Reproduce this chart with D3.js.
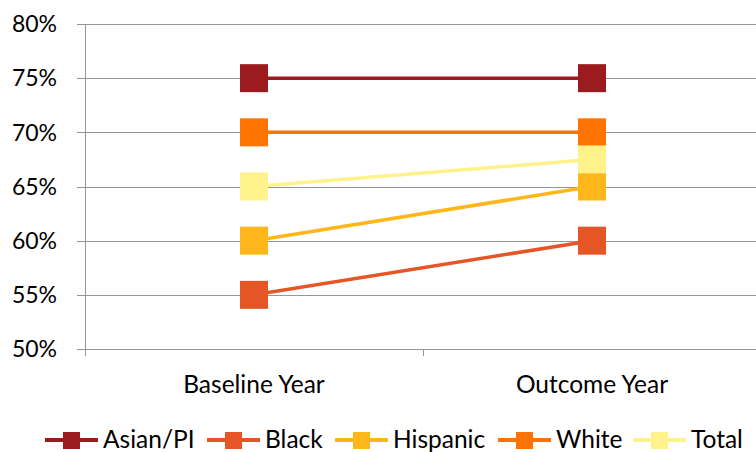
<!DOCTYPE html>
<html>
<head>
<meta charset="utf-8">
<script src="https://cdn.jsdelivr.net/npm/d3@7"></script>
<style>
  html, body { margin: 0; padding: 0; background: #fff; }
  svg { display: block; }
  text { font-family: "Lato", "Liberation Sans", sans-serif; fill: #000; }
</style>
</head>
<body>
<svg id="chart" width="756" height="452"></svg>
<script>
// Share of students by group, baseline vs. outcome year
const categories = ["Baseline Year", "Outcome Year"];
const seriesNames = ["Asian/PI", "Black", "Hispanic", "White", "Total"];
const asianPI = [0.75, 0.75];
const black = [0.55, 0.60];
const hispanic = [0.60, 0.65];
const white = [0.70, 0.70];
const total = [0.65, 0.675];
const yTicks = [0.50, 0.55, 0.60, 0.65, 0.70, 0.75, 0.80];
const colors = ["#9B1B1E", "#E55525", "#FDB71A", "#FF7300", "#FFF28A"];

const series = [asianPI, black, hispanic, white, total].map((values, i) => ({
  name: seriesNames[i], values, color: colors[i]
}));

const svg = d3.select("#chart");
const plotLeft = 85, plotRight = 761, plotTop = 24, plotBottom = 349;

const x = d3.scaleBand().domain(categories).range([plotLeft, plotRight]);
const y = d3.scaleLinear().domain([0.5, 0.8]).range([plotBottom, plotTop]);

// horizontal gridlines
svg.append("g").selectAll("line").data(yTicks).join("line")
  .attr("x1", plotLeft - 8).attr("x2", 756)
  .attr("y1", d => Math.round(y(d)) + 0.5).attr("y2", d => Math.round(y(d)) + 0.5)
  .attr("stroke", "#969696").attr("stroke-width", 1);

// y axis line
svg.append("line")
  .attr("x1", plotLeft + 0.5).attr("x2", plotLeft + 0.5)
  .attr("y1", plotTop).attr("y2", plotBottom + 7)
  .attr("stroke", "#969696");

// category boundary ticks
svg.append("g").selectAll("line").data(categories.slice(1)).join("line")
  .attr("x1", d => Math.round(x(d)) + 0.5).attr("x2", d => Math.round(x(d)) + 0.5)
  .attr("y1", plotBottom).attr("y2", plotBottom + 7)
  .attr("stroke", "#969696");

// y tick labels
const fmt = d3.format(".0%");
svg.append("g").selectAll("text").data(yTicks).join("text")
  .attr("x", 57).attr("y", d => y(d))
  .attr("dy", "0.36em").attr("text-anchor", "end")
  .style("font-size", "23px")
  .text(d => fmt(d));

// x category labels
svg.append("g").selectAll("text").data(categories).join("text")
  .attr("x", d => x(d) + x.bandwidth() / 2).attr("y", 393)
  .attr("text-anchor", "middle")
  .style("font-size", "24.5px")
  .text(d => d);

const cx = (i) => x(categories[i]) + x.bandwidth() / 2;
const line = d3.line().x((d, i) => cx(i)).y(d => y(d));

// lines
series.forEach(s => {
  svg.append("path").datum(s.values)
    .attr("d", line).attr("fill", "none")
    .attr("stroke", s.color).attr("stroke-width", 3.5);
});

// square markers
const m = 28;
series.forEach(s => {
  svg.append("g").selectAll("rect").data(s.values).join("rect")
    .attr("x", (d, i) => cx(i) - m / 2).attr("y", d => y(d) - m / 2)
    .attr("width", m).attr("height", m)
    .attr("fill", s.color);
});

// legend
const legendX = [45, 207, 335, 498, 633];
const lg = svg.append("g").selectAll("g").data(series).join("g")
  .attr("transform", (d, i) => `translate(${legendX[i]},440)`);
lg.append("line").attr("x1", 0).attr("x2", 53).attr("y1", 0).attr("y2", 0)
  .attr("stroke", d => d.color).attr("stroke-width", 4);
lg.append("rect").attr("x", 18).attr("y", -8).attr("width", 17).attr("height", 17)
  .attr("fill", d => d.color);
lg.append("text").attr("x", 58).attr("y", 0).attr("dy", "0.34em")
  .style("font-size", "24.5px")
  .text(d => d.name);
</script>
</body>
</html>
